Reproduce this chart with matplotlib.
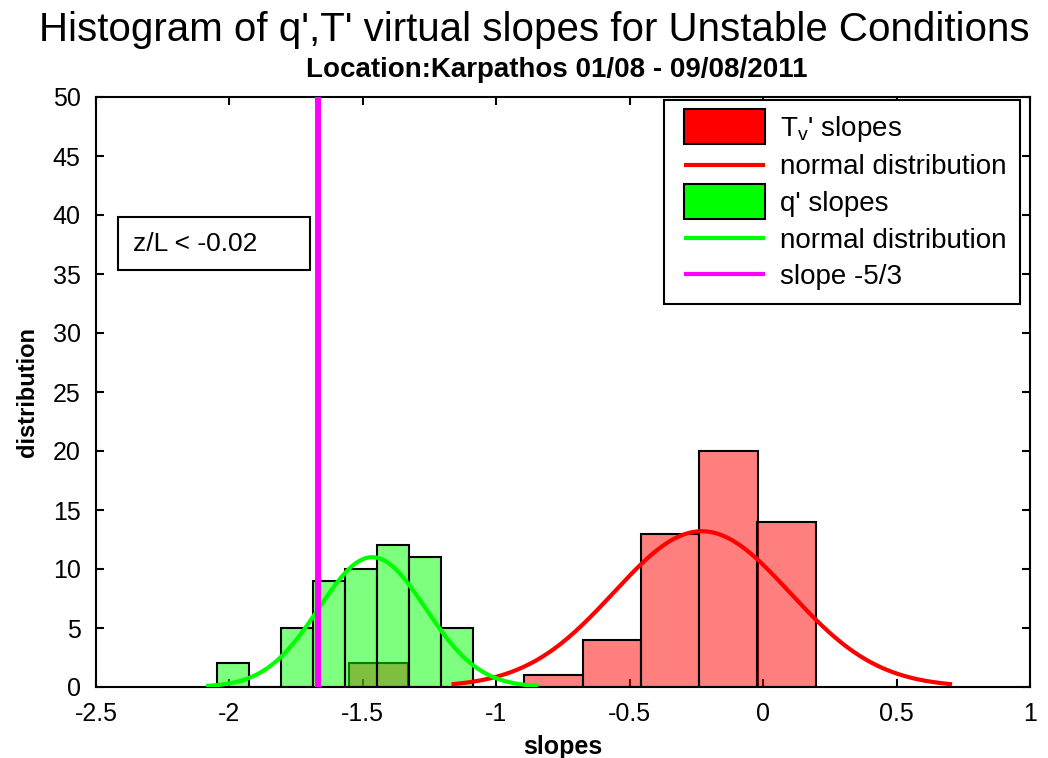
import numpy as np
import matplotlib
matplotlib.use("Agg")
import matplotlib.pyplot as plt
from matplotlib.patches import Patch, Rectangle
from matplotlib.lines import Line2D
from matplotlib.legend_handler import HandlerBase

plt.rcParams['font.family'] = ['Liberation Sans', 'DejaVu Sans']
plt.rcParams['mathtext.fontset'] = 'custom'
plt.rcParams['mathtext.rm'] = 'Liberation Sans'
plt.rcParams['mathtext.it'] = 'Liberation Sans'

# ---- data ----
red_centers = [-1.441, -1.223, -1.004, -0.786, -0.567, -0.349, -0.130, 0.088]
red_counts = [2, 0, 0, 1, 4, 13, 20, 14]
red_width = 0.2185

green_centers = [-1.987, -1.867, -1.747, -1.627, -1.507, -1.387, -1.267, -1.147]
green_counts = [2, 0, 5, 9, 10, 12, 11, 5]
green_width = 0.1199

# fitted normal curves: mean, std, peak height, x-range
red_fit_mu, red_fit_sigma, red_fit_peak = -0.23, 0.33, 13.2
red_fit_range = (-1.16, 0.70)
green_fit_mu, green_fit_sigma, green_fit_peak = -1.465, 0.20, 11.0
green_fit_range = (-2.08, -0.85)

slope_ref = -5.0 / 3.0

x_ticks = [-2.5, -2, -1.5, -1, -0.5, 0, 0.5, 1]
x_tick_labels = ['-2.5', '-2', '-1.5', '-1', '-0.5', '0', '0.5', '1']
y_ticks = [0, 5, 10, 15, 20, 25, 30, 35, 40, 45, 50]

title = "Histogram of q',T' virtual slopes for Unstable Conditions"
subtitle = "Location:Karpathos 01/08 - 09/08/2011"
box_text = "z/L < -0.02"
legend_labels = ["T$_\\mathrm{v}$' slopes", "normal distribution", "q' slopes",
                 "normal distribution", "slope -5/3"]

W, H = 1048, 758
fig = plt.figure(figsize=(W / 100, H / 100), dpi=100)
ax_l, ax_r, ax_t, ax_b = 96, 1030, 97, 687
ax = fig.add_axes([ax_l / W, 1 - ax_b / H, (ax_r - ax_l) / W, (ax_b - ax_t) / H])

ax.bar(red_centers, red_counts, width=red_width, facecolor=(1, 0, 0, 0.5),
       edgecolor='black', linewidth=1.5, zorder=2)
ax.bar(green_centers, green_counts, width=green_width, facecolor=(0, 1, 0, 0.5),
       edgecolor='black', linewidth=1.5, zorder=3)


def normal_curve(mu, sigma, peak, rng):
    xs = np.linspace(rng[0], rng[1], 300)
    return xs, peak * np.exp(-0.5 * ((xs - mu) / sigma) ** 2)


xr, yr = normal_curve(red_fit_mu, red_fit_sigma, red_fit_peak, red_fit_range)
xg, yg = normal_curve(green_fit_mu, green_fit_sigma, green_fit_peak, green_fit_range)
ax.plot(xr, yr, color=(1, 0, 0), lw=3, zorder=4)
ax.plot(xg, yg, color=(0, 1, 0), lw=3, zorder=4)
ax.axvline(slope_ref, color=(1, 0, 1), lw=4.3, zorder=5)

ax.set_xlim(-2.5, 1)
ax.set_ylim(0, 50)
ax.set_xticks(x_ticks)
ax.set_xticklabels(x_tick_labels)
ax.set_yticks(y_ticks)
ax.tick_params(direction='in', length=6, width=1.5, top=True, right=True,
               labelsize=18, pad=11, colors='black')
for s in ax.spines.values():
    s.set_linewidth(1.5)

ax.set_xlabel('slopes', fontsize=18, fontweight='bold', labelpad=6)
ax.set_ylabel('distribution', fontsize=17, fontweight='bold', labelpad=10)

# annotation box
ax.add_patch(Rectangle((-2.418, 35.3), 0.719, 4.5, facecolor='white',
                       edgecolor='black', lw=1.5, zorder=6))
ax.text(-2.36, 37.55, box_text, fontsize=19, ha='left', va='center', zorder=7)


# legend handler: handle drawn with left offset, patches taller than row
OFFSET_PT = 4.3
PATCH_H_PT = 25.0


class OffsetHandler(HandlerBase):
    def create_artists(self, legend, orig_handle, xdescent, ydescent, width,
                       height, fontsize, trans):
        x0 = -xdescent + OFFSET_PT
        w = width - OFFSET_PT
        cy = height / 2 - ydescent
        if isinstance(orig_handle, Patch):
            art = Rectangle((x0, cy - PATCH_H_PT / 2), w, PATCH_H_PT,
                            facecolor=orig_handle.get_facecolor(),
                            edgecolor=orig_handle.get_edgecolor(),
                            lw=orig_handle.get_linewidth())
        else:
            art = Line2D([x0, x0 + w], [cy, cy], color=orig_handle.get_color(),
                         lw=orig_handle.get_linewidth(), solid_capstyle='butt')
        art.set_transform(trans)
        return [art]


handles = [Patch(facecolor=(1, 0, 0), edgecolor='black', lw=1.5),
           Line2D([], [], color=(1, 0, 0), lw=3),
           Patch(facecolor=(0, 1, 0), edgecolor='black', lw=1.5),
           Line2D([], [], color=(0, 1, 0), lw=3),
           Line2D([], [], color=(1, 0, 1), lw=3)]
hmap = {h: OffsetHandler() for h in handles}
leg = ax.legend(handles, legend_labels, loc='upper right', handler_map=hmap,
                bbox_to_anchor=((1020 - ax_l) / (ax_r - ax_l), (ax_b - 100) / (ax_b - ax_t)),
                borderaxespad=0, fontsize=20, fancybox=False, framealpha=1,
                edgecolor='black', handlelength=3.125, handleheight=0.7,
                labelspacing=0.38, handletextpad=0.54, borderpad=0.5)
leg.get_frame().set_linewidth(1.5)
leg.set_zorder(8)

fig.text(534 / W, 1 - 30 / H, title, fontsize=29, ha='center', va='center')
fig.text(557 / W, 1 - 70 / H, subtitle, fontsize=20, fontweight='bold',
         ha='center', va='center')

fig.savefig('out.png', dpi=100)
